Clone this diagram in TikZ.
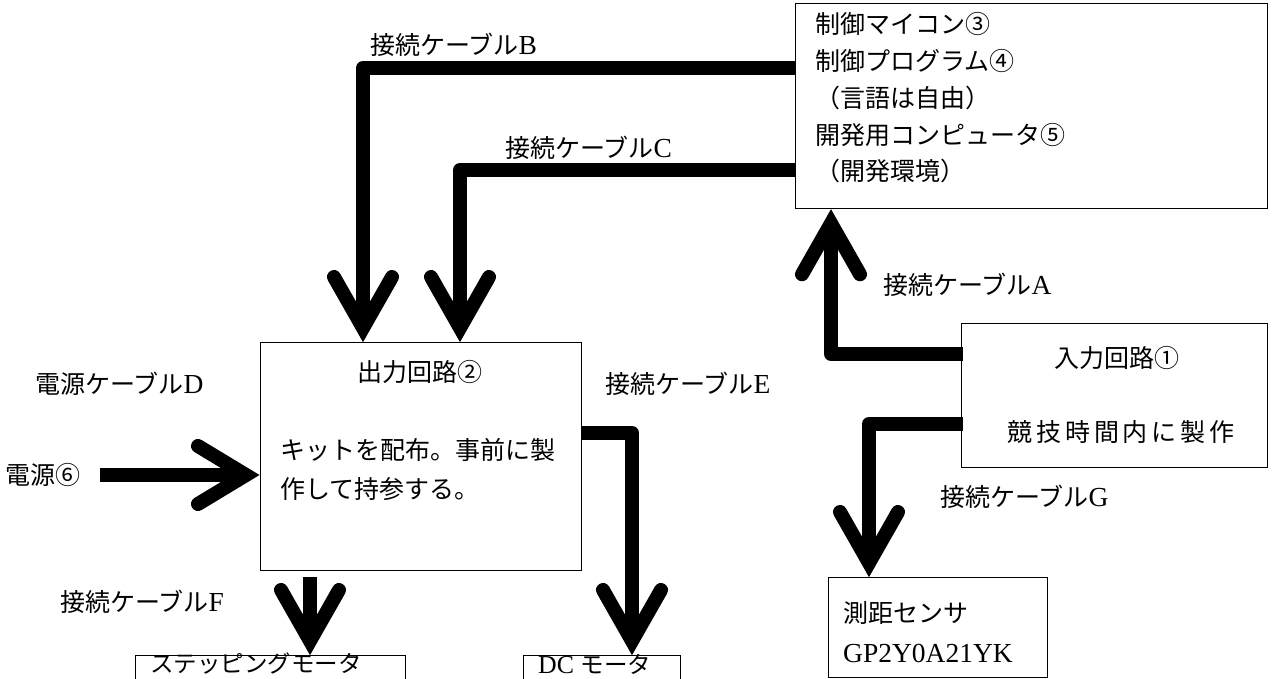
\documentclass[tikz,border=0pt]{standalone}
\usepackage{fontspec}
\setmainfont{Liberation Serif}[Scale=1.1]
\newfontfamily\jp{Noto Sans CJK JP}
\newfontfamily\jpw{Noto Sans CJK JP}[LetterSpace=15]
\newcommand\jl[1]{{\jp #1}}
\newcommand\chevDown[1]{\draw[chev] ([xshift=-29,yshift=51]#1) -- (#1) -- ([xshift=29,yshift=51]#1);}
\newcommand\chevUp[1]{\draw[chev] ([xshift=-29,yshift=-51]#1) -- (#1) -- ([xshift=29,yshift=-51]#1);}
\newcommand\chevRight[1]{\draw[chev] ([xshift=-48,yshift=29]#1) -- (#1) -- ([xshift=-48,yshift=-29]#1);}
\begin{document}
\begin{tikzpicture}[x=1pt,y=-1pt,
  box/.style={draw, line width=1.3pt, inner sep=0pt, anchor=north west},
  txt/.style={inner sep=0pt, anchor=west, font=\fontsize{25}{37}\selectfont},
  small/.style={font=\fontsize{23.5}{30}\selectfont},
  cable/.style={line width=14pt, line join=round},
  chev/.style={line width=14pt, line cap=round, line join=miter}]
\useasboundingbox (0,0) rectangle (1272,679);
\clip (0,0) rectangle (1272,679);
\fill[white] (0,0) rectangle (1272,679);
% boxes
\node[box, minimum width=472, minimum height=205] (ctrl) at (795,3) {};
\node[box, minimum width=321, minimum height=228] (out) at (260,342) {};
\node[box, minimum width=306, minimum height=144] (inp) at (961,323) {};
\node[box, minimum width=270, minimum height=60] (step) at (135,655) {};
\node[box, minimum width=157, minimum height=60] (dc) at (523,655) {};
\node[box, minimum width=219, minimum height=100] (sens) at (828,577) {};
% texts
\node[txt, align=left, font=\fontsize{25}{36.7}\selectfont\jp] (ctrlt) at (815,98)
  {制御マイコン③\\制御プログラム④\\（言語は自由）\\開発用コンピュータ⑤\\（開発環境）};
\node[txt, anchor=center] (outt) at (420,372) {\jl{出力回路②}};
\node[txt, align=left, font=\fontsize{25}{39}\selectfont\jp] (outb) at (280,470)
  {キットを配布。事前に製\\作して持参する。};
\node[txt, anchor=center] (inpt) at (1117,358) {\jl{入力回路①}};
\node[txt, anchor=center] (inpb) at (1121,432) {{\jpw 競技時間内に製作}};
\node[txt, small] (stept) at (150,664) {\jl{ステッピングモータ}};
\node[txt, small] (dct) at (538,664) {DC \jl{モータ}};
\node[txt, align=left, font=\fontsize{25}{40}\selectfont] (senst) at (843,632)
  {\jl{測距センサ}\\GP2Y0A21YK};
\node[txt] (lB) at (370,45) {\jl{接続ケーブル}B};
\node[txt] (lC) at (505,148) {\jl{接続ケーブル}C};
\node[txt] (lA) at (883,285) {\jl{接続ケーブル}A};
\node[txt] (lD) at (35,384) {\jl{電源ケーブル}D};
\node[txt] (lE) at (605,384) {\jl{接続ケーブル}E};
\node[txt] (lF) at (60,602) {\jl{接続ケーブル}F};
\node[txt] (lG) at (940,497) {\jl{接続ケーブル}G};
\node[txt] (pw) at (5,475) {\jl{電源⑥}};
% cable vertices
\coordinate (bV) at ([xshift=103,yshift=14]out.north west);
\coordinate (cV) at ([xshift=200,yshift=14]out.north west);
\coordinate (aV) at ([xshift=36,yshift=-14]ctrl.south west);
\coordinate (gV) at ([xshift=41,yshift=14]sens.north west);
\coordinate (eV) at ([xshift=109,yshift=14]dc.north west);
\coordinate (dV) at ([xshift=-14,yshift=-133]out.north west);
\coordinate (fV) at ([xshift=175,yshift=14]step.north west);
% cables
\draw[cable] ([yshift=-65]ctrl.north west) -| (bV); \chevDown{bV}
\draw[cable] ([yshift=-167]ctrl.north west) -| (cV); \chevDown{cV}
\draw[cable] ([xshift=2,yshift=-31]inp.north west) -| (aV); \chevUp{aV}
\draw[cable] ([xshift=2,yshift=-101]inp.north west) -| (gV); \chevDown{gV}
\draw[cable] ([yshift=-91]out.north east) -| (eV); \chevDown{eV}
\draw[cable] ([xshift=20]pw.east) -- (dV); \chevRight{dV}
\draw[cable] ([xshift=50,yshift=-6]out.south west) -- (fV); \chevDown{fV}
\end{tikzpicture}
\end{document}
